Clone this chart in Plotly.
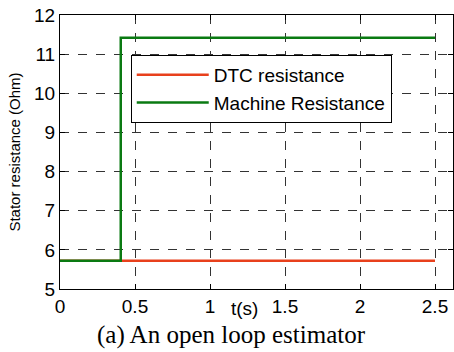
import plotly.graph_objects as go

t_dtc = [0, 2.5]
r_dtc = [5.72, 5.72]
t_machine = [0, 0.405, 0.405, 2.5]
r_machine = [5.72, 5.72, 11.42, 11.42]
x_ticks = [0, 0.5, 1, 1.5, 2, 2.5]
x_ticklabels = ["0", "0.5", "1", "1.5", "2", "2.5"]
y_ticks = [5, 6, 7, 8, 9, 10, 11, 12]

fig = go.Figure()
fig.add_trace(go.Scatter(x=t_dtc, y=r_dtc, mode="lines", name="DTC resistance",
                         line=dict(color="#e8401c", width=2.5)))
fig.add_trace(go.Scatter(x=t_machine, y=r_machine, mode="lines", name="Machine Resistance",
                         line=dict(color="#0a7a12", width=2.5)))

axis_common = dict(showline=True, linecolor="black", linewidth=1, mirror="ticks",
                   ticks="inside", ticklen=5, tickcolor="black", automargin=False,
                   showgrid=True, gridcolor="#333333", griddash="dash", gridwidth=1,
                   zeroline=False, tickfont=dict(family="Liberation Sans, Arial", size=19, color="black"))

fig.update_xaxes(range=[0, 2.62], tickvals=x_ticks, ticktext=x_ticklabels, **axis_common)
fig.update_yaxes(range=[5, 12], tickvals=y_ticks, **axis_common)
fig.update_yaxes(title=dict(text="Stator resistance (Ohm)", standoff=9,
                            font=dict(family="Liberation Sans Narrow, Liberation Sans, Arial", size=15, color="black")))

fig.add_annotation(x=1.23, xref="x", y=-0.025, yref="paper", text="t(s)", showarrow=False,
                   yanchor="top", font=dict(family="Liberation Sans, Arial", size=19, color="black"))
fig.add_annotation(x=(231 - 60) / 393, xref="paper", y=-0.108, yref="paper", text="(a) An open loop estimator",
                   showarrow=False, yanchor="top", xanchor="center",
                   font=dict(family="Liberation Serif, Times New Roman", size=25, color="black"))

fig.update_layout(width=454, height=352, margin=dict(l=60, r=1, t=15, b=63),
                  plot_bgcolor="white", paper_bgcolor="white", showlegend=True,
                  legend=dict(x=0.18, y=0.854, xanchor="left", yanchor="top",
                              bordercolor="black", borderwidth=1, bgcolor="white",
                              itemwidth=72, tracegroupgap=0, entrywidth=240, entrywidthmode="pixels",
                              font=dict(family="Liberation Sans, Arial", size=19, color="black")))

fig.write_html("out.html", config={"displayModeBar": False},
               post_script="document.body.style.margin='0';document.body.style.padding='0';")
